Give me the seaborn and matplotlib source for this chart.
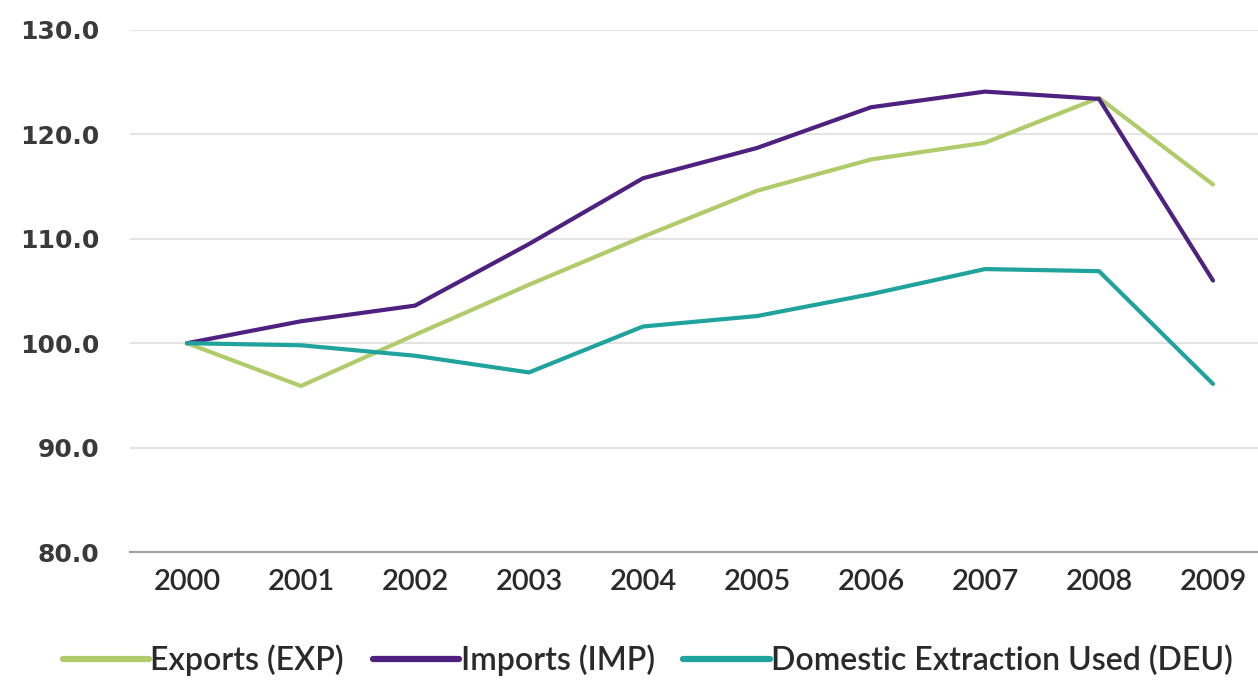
import numpy as np
import pandas as pd
import seaborn as sns
from matplotlib import pyplot as plt

years = ["2000", "2001", "2002", "2003", "2004", "2005", "2006", "2007", "2008", "2009"]
exports = [100.0, 95.9, 100.8, 105.6, 110.2, 114.6, 117.6, 119.2, 123.5, 115.2]
imports = [100.0, 102.1, 103.6, 109.5, 115.8, 118.7, 122.6, 124.1, 123.4, 106.0]
deu = [100.0, 99.8, 98.8, 97.2, 101.6, 102.6, 104.7, 107.1, 106.9, 96.1]

series_names = ["Exports (EXP)", "Imports (IMP)", "Domestic Extraction Used (DEU)"]
colors = ["#b0cc6a", "#4e2180", "#1fa39c"]
y_ticks = [80, 90, 100, 110, 120, 130]

df = pd.DataFrame({"year": years * 3,
                   "value": exports + imports + deu,
                   "series": np.repeat(series_names, len(years))})
df["x"] = np.tile(np.arange(len(years)), 3)

sns.set_style("white")
plt.rcParams["font.family"] = ["DejaVu Sans"]

fig = plt.figure(figsize=(12.58, 6.84), dpi=100)
ax = fig.add_axes([130 / 1258, 1 - 552 / 684, 1140 / 1258, 522 / 684])

sns.lineplot(data=df, x="x", y="value", hue="series", palette=colors,
             linewidth=3.0, ax=ax, legend=False)

ax.set_xlim(-0.5, 9.5)
ax.set_ylim(80, 130)
ax.set_yticks(y_ticks)
ax.set_yticklabels([f"{v:.1f}" for v in y_ticks], fontsize=18, color="#3a3a3a",
                   fontweight="bold")
ax.set_xticks(range(len(years)))
ax.set_xticklabels(years, fontsize=21, color="#2a2a2a", family="Lato",
                   fontweight="semibold")
ax.set_xticks(np.arange(-0.5, 10, 1), minor=True)
ax.tick_params(axis="x", which="major", length=0, pad=12)
ax.tick_params(axis="x", which="minor", length=6, color="#a0a0a0", width=1.2)
ax.tick_params(axis="y", length=0, pad=22)
ax.set_xlabel("")
ax.set_ylabel("")

ax.grid(axis="y", color="#e4e4e4", linewidth=1.5)
ax.set_axisbelow(True)
for side in ["left", "right", "top"]:
    ax.spines[side].set_visible(False)
ax.spines["bottom"].set_color("#a0a0a0")
ax.spines["bottom"].set_linewidth(1.5)

handles = [plt.Line2D([], [], color=c, linewidth=4.5) for c in colors]
fig.legend(handles, series_names, loc="center", bbox_to_anchor=(0.515, 0.035),
           ncol=3, frameon=False, handlelength=2.7, handletextpad=0.05,
           columnspacing=0.9, prop={"family": "Lato", "size": 23, "weight": "semibold"})
for t in fig.legends[0].get_texts():
    t.set_color("#2a2a2a")

fig.savefig("out.png", dpi=100)
